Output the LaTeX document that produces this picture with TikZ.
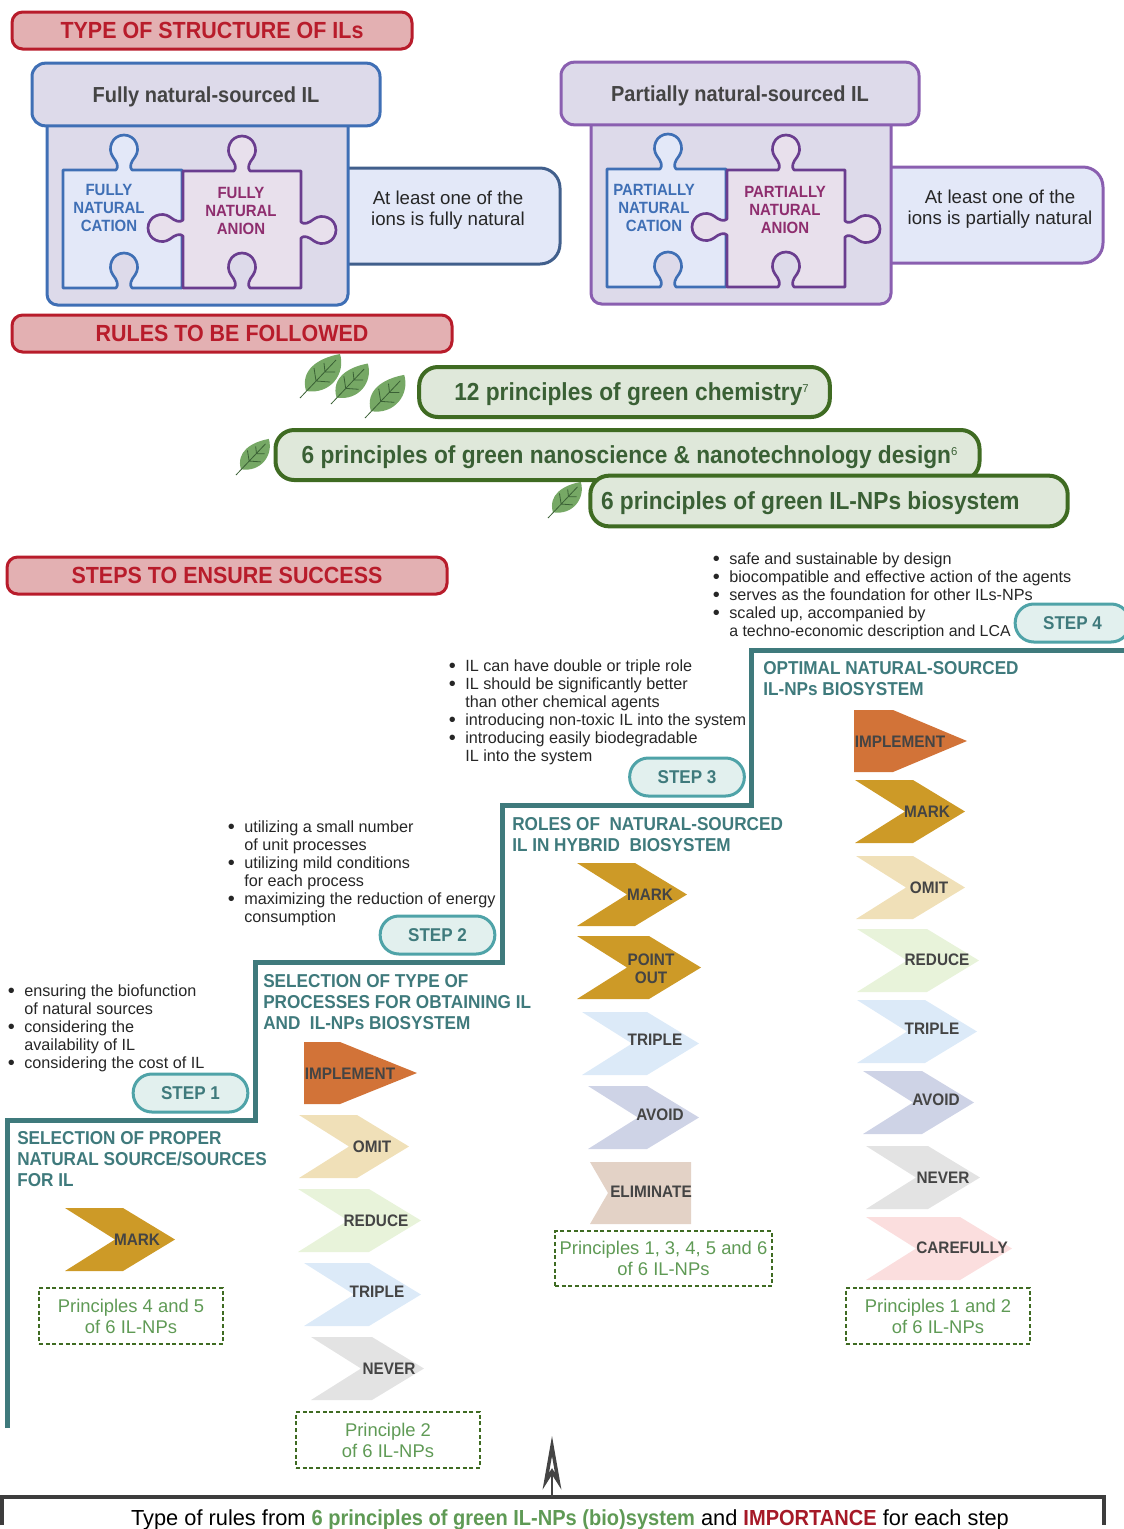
\documentclass[tikz,border=0pt]{standalone}
\usepackage{fontspec}
\setmainfont{Liberation Sans}[BoldFeatures={FakeStretch=0.92}]
\usepackage{xcolor}
\usetikzlibrary{positioning,arrows.meta}
\definecolor{headred}{HTML}{B81C2B}
\definecolor{headfill}{HTML}{E3B0B2}
\definecolor{bluedge}{HTML}{3F6FB5}
\definecolor{violedge}{HTML}{8A5FB0}
\definecolor{boxfill}{HTML}{DDDAEA}
\definecolor{palefill}{HTML}{E3E8F8}
\definecolor{anionfill}{HTML}{E8E0EC}
\definecolor{anionedge}{HTML}{6A3D8F}
\definecolor{anionname}{HTML}{8E2D6E}
\definecolor{greenedge}{HTML}{3F6B22}
\definecolor{greenfill}{HTML}{DFE8DA}
\definecolor{greentext}{HTML}{3A6035}
\definecolor{rulegreen}{HTML}{5F9A55}
\definecolor{stairteal}{HTML}{3F7A7C}
\definecolor{stepedge}{HTML}{4FA3A8}
\definecolor{stepfill}{HTML}{E2F0EE}
\definecolor{darktext}{HTML}{444444}
\definecolor{implementcol}{HTML}{D27338}
\definecolor{markcol}{HTML}{CD9A27}
\definecolor{omitcol}{HTML}{F0E0B8}
\definecolor{reducecol}{HTML}{E8F3DA}
\definecolor{triplecol}{HTML}{DCEAF8}
\definecolor{nevercol}{HTML}{E3E3E3}
\definecolor{avoidcol}{HTML}{CED3E6}
\definecolor{eliminatecol}{HTML}{E3D2C6}
\definecolor{carefullycol}{HTML}{FBDEDE}
\definecolor{leafcol}{HTML}{76A865}
\tikzset{
  redbox/.style={draw=headred,fill=headfill,line width=2.25pt,rounded corners=8pt,text=headred,font=\bfseries\fontsize{17.5}{21}\selectfont},
  titlebox/.style={fill=boxfill,line width=2.25pt,rounded corners=10pt,text=darktext,text height=11.7pt,text depth=0pt,font=\bfseries\fontsize{16.3}{18}\selectfont},
  greenbox/.style={draw=greenedge,fill=greenfill,line width=3pt,rounded corners=14pt,text=greentext,text height=13.2pt,text depth=0pt,font=\bfseries\fontsize{18.5}{22}\selectfont},
  stepbox/.style={draw=stepedge,fill=stepfill,line width=2.25pt,rounded corners=14pt,minimum width=86pt,minimum height=28.5pt,text=stairteal,font=\bfseries\fontsize{13.9}{16}\selectfont},
  rulebox/.style={draw=greenedge,densely dashed,line width=1.1pt,align=center,text=rulegreen,font=\fontsize{13.8}{15.75}\selectfont},
  sidetext/.style={align=center,text=black!85,font=\fontsize{14}{15.75}\selectfont,inner sep=0pt},
  piecetext/.style={align=center,font=\bfseries\fontsize{12.2}{13.5}\selectfont,inner sep=0pt},
  chevtext/.style={align=center,inner sep=0pt,text=darktext,font=\bfseries\fontsize{12.5}{13.8}\selectfont},
  listtext/.style={anchor=north west,align=left,inner sep=0pt,text=black!85,font=\fontsize{12.15}{13.5}\selectfont},
  steptitle/.style={anchor=north west,align=left,inner sep=0pt,text=stairteal,font=\bfseries\fontsize{14}{15.75}\selectfont},
  cationpiece/.style={draw=bluedge,fill=palefill,line width=2pt,line join=round},
  anionpiece/.style={draw=anionedge,fill=anionfill,line width=2pt,line join=round},
  leafbody/.style={fill=leafcol},
  leafvein/.style={draw=greentext,line width=.6pt}
}
% one puzzle tab, drawn for a path running left to right with the tab upwards
\newcommand{\knob}[3]{{[shift={(#1,#2)},#3] -- (-8,0) .. controls (-5,-3) and (-7,-8) .. (-11,-13) .. controls (-17,-21) and (-12,-35) .. (0,-35) .. controls (12,-35) and (17,-21) .. (11,-13) .. controls (7,-8) and (5,-3) .. (8,0)}}
\newcommand{\puzzle}[2]{%
\begin{scope}[shift={(#1,#2)}]
\filldraw[cationpiece] (63,170) \knob{124}{170}{rotate=0} -- (182,170) -- (182,288) \knob{124}{288}{xscale=-1} -- (63,288) -- cycle;
\filldraw[anionpiece] (183,171) \knob{242}{171}{rotate=0} -- (301,171) \knob{301}{230}{rotate=-90} -- (301,288) \knob{242}{288}{xscale=-1} -- (183,288) \knob{183}{228}{rotate=90} -- cycle;
\end{scope}}
\newcommand{\leaf}[3]{%
\begin{scope}[shift={(#1,#2)},scale=#3]
\fill[leafbody] (6,-7) .. controls (0,-28) and (18,-40) .. (40,-44) .. controls (46,-24) and (30,-3) .. (6,-7);
\draw[leafvein] (0,0) -- (36,-38) (16,-17) -- (14,-30) (16,-17) -- (30,-16) (25,-26) -- (24,-35) (25,-26) -- (35,-26);
\end{scope}}
% name, left, shoulder, top, colour, text x, text y, label
\newcommand{\chev}[8]{%
\fill[fill=#5] (#2,#4) -- (#3,#4) -- (#3+52,#4+31.5) -- (#3,#4+63) -- (#2,#4+63) -- (#2+50,#4+31.5) -- cycle;
\node[chevtext] (#1) at (#6,#7) {#8};}
\newcommand{\bul}{\makebox[12.4pt][l]{\raisebox{-.8pt}{\fontsize{15}{13.5}\selectfont •}}}
\newcommand{\nob}{\hspace*{12.4pt}}
\newcommand{\supnum}[1]{\raisebox{6pt}{\mdseries\fontsize{8.5}{9}\selectfont #1}}

\begin{document}
\begin{tikzpicture}[x=0.75pt,y=-0.75pt]
\clip[use as bounding box] (0,0) rectangle (1124,1529);

\node[redbox,minimum width=300pt,minimum height=27.75pt] (typehead) at (212,30.5) {TYPE OF STRUCTURE OF ILs};

\filldraw[draw=bluedge!70!black!90,fill=palefill,line width=2.25pt,rounded corners=15pt] (340,168) -- (560,168) -- (560,264) -- (340,264);
\filldraw[draw=bluedge,fill=boxfill,line width=2.25pt,rounded corners=8pt] (47,100) rectangle (348,305);
\node[titlebox,draw=bluedge,minimum width=261pt,minimum height=47pt] (fullyhead) at (206,94.5) {Fully natural-sourced IL};
\puzzle{0}{0}
\node[piecetext,text=bluedge] (fullycation) at (109,208) {FULLY\\NATURAL\\CATION};
\node[piecetext,text=anionname] (fullyanion) at (241,211) {FULLY\\NATURAL\\ANION};
\node[sidetext] (fullyside) at (448,210) {At least one of the\\ions is fully natural};

\filldraw[draw=violedge,fill=palefill,line width=2.25pt,rounded corners=15pt] (880,167) -- (1103,167) -- (1103,263) -- (880,263);
\filldraw[draw=violedge,fill=boxfill,line width=2.25pt,rounded corners=8pt] (591,100) rectangle (891,304);
\node[titlebox,draw=violedge,minimum width=268.5pt,minimum height=47pt] (partlyhead) at (740,93.5) {Partially natural-sourced IL};
\puzzle{544}{-1}
\node[piecetext,text=bluedge] (partlycation) at (654,208) {PARTIALLY\\NATURAL\\CATION};
\node[piecetext,text=anionname] (partlyanion) at (785,210) {PARTIALLY\\NATURAL\\ANION};
\node[sidetext] (partlyside) at (1000,209) {At least one of the\\ions is partially natural};

\node[redbox,minimum width=330pt,minimum height=27.75pt] (ruleshead) at (232,333.5) {RULES TO BE FOLLOWED};

\leaf{300}{398}{1}
\leaf{331}{404}{.92}
\leaf{365}{418}{.98}
\leaf{236}{475}{.82}
\leaf{548}{518}{.82}
\node[greenbox,minimum width=308pt,minimum height=37.5pt] (chemistry) at (624.5,392) {\hspace*{10.5pt}12 principles of green chemistry\supnum{7}};
\node[greenbox,minimum width=528pt,minimum height=37.5pt] (nanoscience) at (627.5,455) {\hspace*{3pt}6 principles of green nanoscience \& nanotechnology design\supnum{6}};
\node[greenbox,minimum width=358pt,minimum height=38pt] (ilnps) at (829,501) {6 principles of green IL-NPs biosystem\hspace*{28pt}};

\node[redbox,minimum width=330pt,minimum height=27.75pt] (stepshead) at (227,575.5) {STEPS TO ENSURE SUCCESS};

\draw[stairteal,line width=3.75pt] (7,1428) -- (7,1120) -- (255,1120) -- (255,962) -- (502,962) -- (502,805) -- (751,805) -- (751,650) -- (1124,650);

\node[stepbox] (stepone) at (190.5,1093) {STEP 1};
\node[stepbox] (steptwo) at (437.5,935) {STEP 2};
\node[stepbox] (stepthree) at (687,777) {STEP 3};
\node[stepbox] (stepfour) at (1072.5,623) {STEP 4};

\node[listtext] (listone) at (7.5,984.5) {\bul ensuring the biofunction\\\nob of natural sources\\\bul considering the\\\nob availability of IL\\\bul considering the cost of IL};
\node[listtext] (listtwo) at (227.5,820.5) {\bul utilizing a small number\\\nob of unit processes\\\bul utilizing mild conditions\\\nob for each process\\\bul maximizing the reduction of energy\\\nob consumption};
\node[listtext] (listthree) at (448.5,659.5) {\bul IL can have double or triple role\\\bul IL should be significantly better\\\nob than other chemical agents\\\bul introducing non-toxic IL into the system\\\bul introducing easily biodegradable\\\nob IL into the system};
\node[listtext] (listfour) at (712.5,552.5) {\bul safe and sustainable by design\\\bul biocompatible and effective action of the agents\\\bul serves as the foundation for other ILs-NPs\\\bul scaled up, accompanied by\\\nob {\fontsize{11.9}{13.5}\selectfont a techno-economic description and LCA}};

\node[steptitle] (titleone) at (17,1131.5) {SELECTION OF PROPER\\NATURAL SOURCE/SOURCES\\FOR IL};
\node[steptitle] (titletwo) at (263,974.5) {SELECTION OF TYPE OF\\PROCESSES FOR OBTAINING IL\\AND\ \ IL-NPs BIOSYSTEM};
\node[steptitle] (titlethree) at (512,817.5) {ROLES OF\ \ NATURAL-SOURCED\\IL IN HYBRID\ \ BIOSYSTEM};
\node[steptitle] (titlefour) at (763,661.5) {OPTIMAL NATURAL-SOURCED\\IL-NPs BIOSYSTEM};

\chev{markone}{65}{123}{1208}{markcol}{137}{1240}{MARK}
\node[rulebox,minimum width=138pt,minimum height=42pt] (ruleone) at (131,1316) {Principles 4 and 5\\of 6 IL-NPs};

\fill[implementcol] (304,1042) -- (340,1042) -- (417,1073) -- (340,1104) -- (304,1104) -- cycle;
\node[chevtext] (implementtwo) at (350,1074) {IMPLEMENT};
\chev{omittwo}{299}{357}{1115}{omitcol}{372}{1147}{OMIT}
\chev{reducetwo}{298}{369}{1189}{reducecol}{376}{1221}{REDUCE}
\chev{tripletwo}{304}{369}{1263}{triplecol}{377}{1292}{TRIPLE}
\chev{nevertwo}{311}{372}{1337}{nevercol}{389}{1369}{NEVER}
\node[rulebox,minimum width=138pt,minimum height=42pt] (ruletwo) at (388,1440) {Principle 2\\of 6 IL-NPs};

\chev{markthree}{577}{635}{863}{markcol}{650}{895}{MARK}
\chev{pointthree}{577}{649}{936}{markcol}{651}{969}{POINT\\OUT}
\chev{triplethree}{582}{647}{1012}{triplecol}{655}{1040}{TRIPLE}
\chev{avoidthree}{588}{647}{1086}{avoidcol}{660}{1115}{AVOID}
\fill[eliminatecol] (590,1162) -- (691,1162) -- (691,1224) -- (590,1224) -- (608,1193) -- cycle;
\node[chevtext] (eliminatethree) at (651,1192) {ELIMINATE};
\node[rulebox,minimum width=163pt,minimum height=41pt,inner xsep=0pt] (rulethree) at (663.5,1258.5) {Principles 1, 3, 4, 5 and 6\\of 6 IL-NPs};

\fill[implementcol] (854,710) -- (893,710) -- (967,741) -- (893,772) -- (854,772) -- cycle;
\node[chevtext] (implementfour) at (900,742) {IMPLEMENT};
\chev{markfour}{855}{913}{780}{markcol}{927}{812}{MARK}
\chev{omitfour}{856}{913}{856}{omitcol}{929}{888}{OMIT}
\chev{reducefour}{857}{927}{929}{reducecol}{937}{960}{REDUCE}
\chev{triplefour}{857}{925}{1000}{triplecol}{932}{1029}{TRIPLE}
\chev{avoidfour}{863}{922}{1071}{avoidcol}{936}{1100}{AVOID}
\chev{neverfour}{866}{928}{1146}{nevercol}{943}{1178}{NEVER}
\chev{carefullyfour}{866}{960}{1217}{carefullycol}{962}{1248}{CAREFULLY}
\node[rulebox,minimum width=138pt,minimum height=42pt] (rulefour) at (938,1316) {Principles 1 and 2\\of 6 IL-NPs};

\coordinate (bracketmid) at (552,1497);
\coordinate (arrowtop) at (552,1436);
\draw[darktext!90!black,line width=2.6pt] (2,1525) -- (2,1497) -- (1104,1497) -- (1104,1525);
\draw[darktext,line width=1.6pt,-{Stealth[open,length=40pt,width=14pt,inset=11pt,line width=2.6pt]}] (bracketmid) -- (arrowtop);
\node[inner sep=0pt,font=\fontsize{16.35}{19}\selectfont] (caption) at (570,1519.5) {Type of rules from \textcolor{rulegreen}{\bfseries 6 principles of green IL-NPs (bio)system} and \textcolor{headred!90!black}{\bfseries IMPORTANCE} for each step};
\end{tikzpicture}
\end{document}
